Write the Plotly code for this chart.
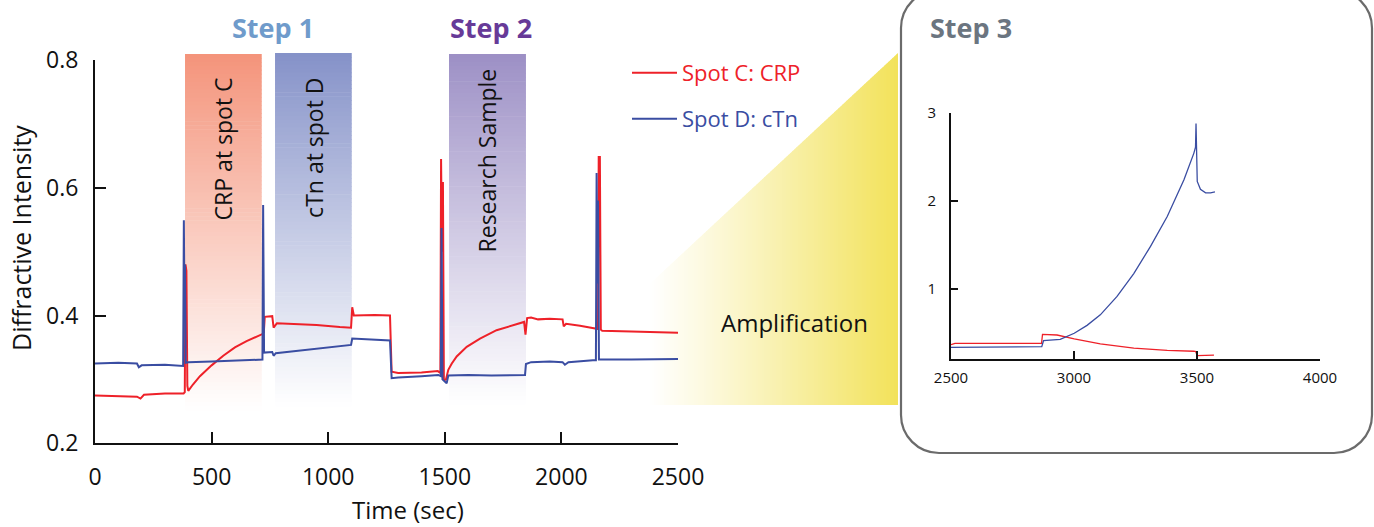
import plotly.graph_objects as go

W, H = 1374, 527

# ---------------- data ----------------
crp_time = [0, 100, 180, 195, 210, 300, 380, 385, 388, 392, 396, 400, 420, 450, 500, 550, 600, 650, 700, 718,
            724, 728, 760, 766, 780, 850, 950, 1050, 1098, 1103, 1110, 1200, 1265, 1272, 1300, 1400, 1470,
            1481, 1484, 1488, 1492, 1496, 1500, 1505, 1515, 1530, 1551, 1594, 1651, 1722, 1794, 1840, 1846,
            1853, 1870, 1900, 1950, 2005, 2010, 2020, 2080, 2135, 2157, 2160, 2165, 2169, 2175, 2300, 2400, 2500]
crp_signal = [0.275, 0.274, 0.273, 0.270, 0.276, 0.278, 0.278, 0.280, 0.480, 0.470, 0.290, 0.282, 0.292, 0.305,
              0.322, 0.337, 0.350, 0.360, 0.368, 0.371,
              0.374, 0.398, 0.399, 0.381, 0.388, 0.387, 0.385, 0.382, 0.381, 0.413, 0.400, 0.401, 0.400, 0.312,
              0.310, 0.311, 0.313,
              0.310, 0.645, 0.500, 0.609, 0.300, 0.299, 0.300, 0.315, 0.325, 0.336, 0.351, 0.364, 0.377, 0.385,
              0.390, 0.370,
              0.396, 0.397, 0.394, 0.395, 0.394, 0.383, 0.387, 0.384, 0.380, 0.379, 0.648, 0.648, 0.378, 0.376,
              0.375, 0.374, 0.373]

ctn_time = [0, 100, 180, 188, 200, 300, 378, 381, 384, 386, 389, 400, 500, 600, 715, 718, 721, 725, 760, 766,
            775, 900, 1000, 1098, 1103, 1150, 1200, 1265, 1272, 1300, 1400, 1472, 1483, 1486, 1490, 1500, 1508,
            1515, 1600, 1700, 1844, 1848, 1870, 1950, 2005, 2015, 2030, 2135, 2148, 2151, 2154, 2157, 2161,
            2300, 2500]
ctn_signal = [0.325, 0.326, 0.325, 0.319, 0.322, 0.323, 0.321, 0.549, 0.400, 0.480, 0.326, 0.327, 0.328, 0.329,
              0.330, 0.331, 0.573, 0.342, 0.343, 0.337,
              0.341, 0.346, 0.350, 0.354, 0.364, 0.363, 0.363, 0.361, 0.302, 0.303, 0.305, 0.307, 0.305, 0.537,
              0.300, 0.296, 0.294,
              0.306, 0.307, 0.306, 0.307, 0.324, 0.327, 0.328, 0.327, 0.323, 0.327, 0.330, 0.330, 0.623, 0.450,
              0.580, 0.331,
              0.331, 0.332]

inset_crp_time = [2500, 2516, 2700, 2868, 2872, 2931, 3001, 3107, 3243, 3379, 3487, 3495, 3501, 3569]
inset_crp_signal = [0.36, 0.375, 0.375, 0.375, 0.478, 0.470, 0.425, 0.370, 0.320, 0.295, 0.285, 0.280, 0.235, 0.240]

inset_ctn_time = [2500, 2700, 2869, 2876, 2944, 3001, 3053, 3107, 3175, 3243, 3311, 3379, 3447, 3487, 3494,
                  3496, 3501, 3514, 3535, 3555, 3573]
inset_ctn_signal = [0.33, 0.335, 0.337, 0.405, 0.42, 0.49, 0.58, 0.70, 0.91, 1.17, 1.48, 1.82, 2.24, 2.54, 2.61,
                    2.88, 2.22, 2.13, 2.09, 2.09, 2.10]

band_labels = ["CRP at spot C", "cTn at spot D", "Research Sample"]
band_start = [386, 772, 1518]
band_end = [715, 1101, 1848]

main_x_ticks = [0, 500, 1000, 1500, 2000, 2500]
main_y_ticks = [0.2, 0.4, 0.6, 0.8]
main_y_ticktext = ["0.2", "0.4", "0.6", "0.8"]
inset_x_ticks = [2500, 3000, 3500, 4000]
inset_y_ticks = [1, 2, 3]

# ---------------- styling helpers ----------------
FONT = "Open Sans"
RED = "#EE2129"
BLUE = "#3A4DA2"


def px(x):
    return x / W


def py(y):
    return 1 - y / H


def hex2rgb(h):
    h = h.lstrip("#")
    return tuple(int(h[i:i + 2], 16) for i in (0, 2, 4))


def mix(c1, c2, t):
    a, b = hex2rgb(c1), hex2rgb(c2)
    return "rgb(%d,%d,%d)" % tuple(round(a[i] * (1 - t) + b[i] * t) for i in range(3))


fig = go.Figure()

fig.add_trace(go.Scatter(x=crp_time, y=crp_signal, mode="lines", name="Spot C: CRP",
                         line=dict(color=RED, width=2), legend="legend", xaxis="x", yaxis="y"))
fig.add_trace(go.Scatter(x=ctn_time, y=ctn_signal, mode="lines", name="Spot D: cTn",
                         line=dict(color=BLUE, width=2), legend="legend2", xaxis="x", yaxis="y"))
fig.add_trace(go.Scatter(x=inset_crp_time, y=inset_crp_signal, mode="lines", showlegend=False,
                         line=dict(color=RED, width=1.3), xaxis="x2", yaxis="y2"))
fig.add_trace(go.Scatter(x=inset_ctn_time, y=inset_ctn_signal, mode="lines", showlegend=False,
                         line=dict(color=BLUE, width=1.3), xaxis="x2", yaxis="y2"))

shapes = []
# gradient bands
band_top_px = [54, 53, 54]
band_bot_px = [410, 406, 404]
band_top_colors = ["#F4937A", "#8491C8", "#9C8FC5"]
n = 90
for i in range(len(band_labels)):
    top, bot = band_top_px[i], band_bot_px[i]
    for k in range(n):
        y0 = top + (bot - top) * k / n
        y1 = top + (bot - top) * (k + 1) / n + 0.6
        f = (k + 0.5) / n
        shapes.append(dict(type="rect", xref="x", yref="paper", x0=band_start[i], x1=band_end[i],
                           y0=py(y1), y1=py(y0), fillcolor=mix(band_top_colors[i], "#FFFFFF", f ** 0.95),
                           line=dict(width=0), layer="below"))

# amplification glow
GLOW_L, GLOW_R, GLOW_TOP, GLOW_BOT = 648, 898, 53, 405
YELLOW = "#F2E25A"


def glow_top(x):
    return max(GLOW_TOP, GLOW_TOP + (GLOW_R - x) * 0.93)


step = 2
x = GLOW_L
while x < GLOW_R:
    x0, x1 = x, min(x + step + 0.6, GLOW_R)
    t = (x + step / 2 - GLOW_L) / (GLOW_R - GLOW_L)
    col = mix("#FFFFFF", YELLOW, min(1, t ** 1.1))
    path = "M %f,%f L %f,%f L %f,%f L %f,%f Z" % (px(x0), py(glow_top(x0)), px(x1), py(glow_top(x1)),
                                                   px(x1), py(GLOW_BOT), px(x0), py(GLOW_BOT))
    shapes.append(dict(type="path", xref="paper", yref="paper", path=path, fillcolor=col,
                       line=dict(width=0), layer="below"))
    x += step

# Step 3 rounded box
bl, br, bt, bb, r = 901, 1372, -10, 453, 38
k = 0.5523 * r


def P(x, y):
    return "%f,%f" % (px(x), py(y))


box = ("M " + P(bl + r, bt) + " L " + P(br - r, bt) +
       " C " + P(br - r + k, bt) + " " + P(br, bt + r - k) + " " + P(br, bt + r) +
       " L " + P(br, bb - r) +
       " C " + P(br, bb - r + k) + " " + P(br - r + k, bb) + " " + P(br - r, bb) +
       " L " + P(bl + r, bb) +
       " C " + P(bl + r - k, bb) + " " + P(bl, bb - r + k) + " " + P(bl, bb - r) +
       " L " + P(bl, bt + r) +
       " C " + P(bl, bt + r - k) + " " + P(bl + r - k, bt) + " " + P(bl + r, bt) + " Z")
shapes.append(dict(type="path", xref="paper", yref="paper", path=box, fillcolor="rgba(0,0,0,0)",
                   line=dict(color="#6B6B6B", width=2.2), layer="above"))

annotations = []
# band labels
band_text_y = [149, 147.5, 160]
for i, lab in enumerate(band_labels):
    annotations.append(dict(text=lab, x=(band_start[i] + band_end[i]) / 2, y=py(band_text_y[i]),
                            xref="x", yref="paper", showarrow=False, textangle=-90,
                            font=dict(family=FONT, size=23, color="#111111"),
                            xanchor="center", yanchor="middle"))

# step titles
annotations.append(dict(text="<b>Step 1</b>", x=px(273), y=py(28), xref="paper", yref="paper", showarrow=False,
                        font=dict(family=FONT, size=27, color="#6F9BCB"), xanchor="center", yanchor="middle"))
annotations.append(dict(text="<b>Step 2</b>", x=px(491), y=py(28), xref="paper", yref="paper", showarrow=False,
                        font=dict(family=FONT, size=27, color="#673A98"), xanchor="center", yanchor="middle"))
annotations.append(dict(text="<b>Step 3</b>", x=px(971), y=py(28), xref="paper", yref="paper", showarrow=False,
                        font=dict(family=FONT, size=27, color="#6B7580"), xanchor="center", yanchor="middle"))

annotations.append(dict(text="Amplification", x=px(794), y=py(322), xref="paper", yref="paper", showarrow=False,
                        font=dict(family=FONT, size=24, color="#111111"), xanchor="center", yanchor="middle"))

# axis titles
annotations.append(dict(text="Diffractive Intensity", x=px(21), y=py(238), xref="paper", yref="paper",
                        showarrow=False, textangle=-90, font=dict(family=FONT, size=25, color="#111111"),
                        xanchor="center", yanchor="middle"))
annotations.append(dict(text="Time (sec)", x=px(408), y=py(509), xref="paper", yref="paper", showarrow=False,
                        font=dict(family=FONT, size=24, color="#111111"), xanchor="center", yanchor="middle"))

axis_common = dict(showline=True, linecolor="#111111", showgrid=False, zeroline=False, ticks="inside",
                   tickcolor="#111111", mirror=False, automargin=False)

fig.update_layout(
    width=W, height=H,
    margin=dict(l=0, r=0, t=0, b=0, pad=0, autoexpand=False),
    paper_bgcolor="white", plot_bgcolor="rgba(0,0,0,0)",
    font=dict(family=FONT, color="#111111"),
    xaxis=dict(domain=[px(95), px(678)], range=[0, 2500], anchor="y", tickvals=main_x_ticks,
               linewidth=2, ticklen=11, tickwidth=2, tickfont=dict(size=23), ticklabelstandoff=12,
               **axis_common),
    yaxis=dict(domain=[py(443.3), py(60)], range=[0.2, 0.8], anchor="x", tickvals=main_y_ticks,
               ticktext=main_y_ticktext, linewidth=2, ticklen=11, tickwidth=2, tickfont=dict(size=23),
               ticklabelstandoff=10, **axis_common),
    xaxis2=dict(domain=[px(951), px(1320)], range=[2500, 4000], anchor="y2", tickvals=inset_x_ticks,
                linewidth=2, ticklen=8, tickwidth=2, tickfont=dict(size=15), ticklabelstandoff=4,
                **axis_common),
    yaxis2=dict(domain=[py(358.7), py(113)], range=[0.2, 3], anchor="x2", tickvals=inset_y_ticks,
                linewidth=2, ticklen=7, tickwidth=2, tickfont=dict(size=15), ticklabelstandoff=10,
                **axis_common),
    legend=dict(x=px(627), y=py(73), xanchor="left", yanchor="middle", bgcolor="rgba(0,0,0,0)",
                borderwidth=0, itemwidth=45, font=dict(family=FONT, size=22, color=RED)),
    legend2=dict(x=px(627), y=py(119), xanchor="left", yanchor="middle", bgcolor="rgba(0,0,0,0)",
                 borderwidth=0, itemwidth=45, font=dict(family=FONT, size=22, color=BLUE)),
    shapes=shapes,
    annotations=annotations,
    showlegend=True,
)

fig.write_html("out.html",
               config={"displayModeBar": False},
               post_script="document.body.style.margin='0';document.body.style.padding='0';"
                           "document.body.style.overflow='hidden';")
